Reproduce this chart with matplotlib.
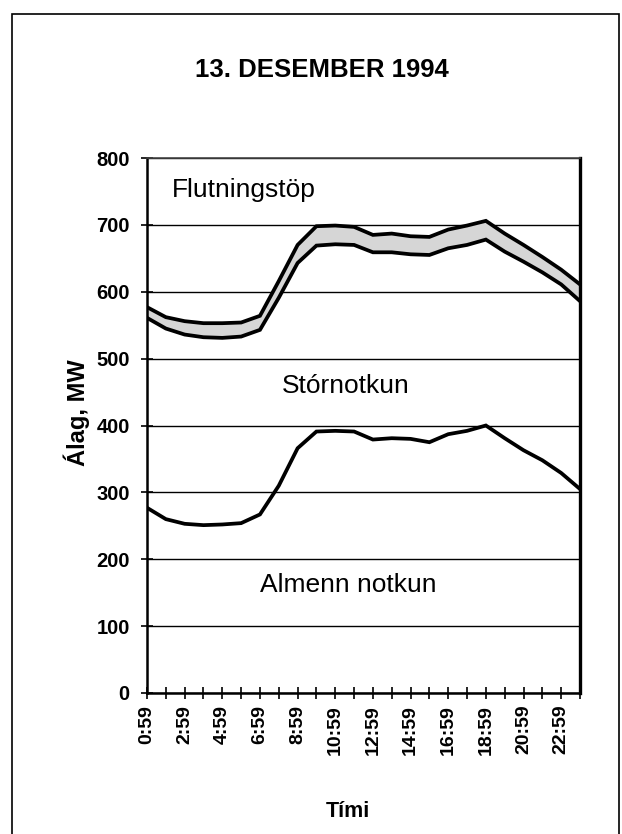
import matplotlib
matplotlib.use("Agg")
import matplotlib.pyplot as plt
from matplotlib.patches import Rectangle

plt.rcParams['font.family'] = ['Liberation Sans', 'DejaVu Sans']

hours = ['0:59', '1:59', '2:59', '3:59', '4:59', '5:59', '6:59', '7:59',
         '8:59', '9:59', '10:59', '11:59', '12:59', '13:59', '14:59', '15:59',
         '16:59', '17:59', '18:59', '19:59', '20:59', '21:59', '22:59', '23:59']

# Upper boundary of "Almenn notkun" (MW)
almenn = [277, 260, 253, 251, 252, 254, 267, 310, 366, 391, 392, 391,
          379, 381, 380, 375, 387, 392, 400, 381, 363, 348, 329, 305]
# Upper boundary of "Stórnotkun" (cumulative, MW)
stornotkun = [561, 545, 536, 532, 531, 533, 543, 591, 643, 669, 671, 670,
              659, 659, 656, 655, 665, 670, 678, 660, 645, 629, 611, 586]
# Upper boundary incl. "Flutningstöp" (cumulative, MW)
flutningstop = [577, 562, 556, 553, 553, 554, 564, 616, 670, 698, 699, 697,
                685, 687, 683, 682, 693, 699, 706, 687, 670, 652, 633, 611]

y_ticks = [0, 100, 200, 300, 400, 500, 600, 700, 800]

W, H = 622, 834
fig = plt.figure(figsize=(W / 100, H / 100), dpi=100)
fig.patch.set_facecolor('white')

def fx(px):
    return px / W

def fy(py):
    return 1 - py / H

AX_L, AX_R, AX_T, AX_B = 147, 580, 158, 693
ax = fig.add_axes([fx(AX_L), fy(AX_B), (AX_R - AX_L) / W, (AX_B - AX_T) / H])

x = list(range(len(hours)))
ax.fill_between(x, stornotkun, flutningstop, color='#d6d6d6', lw=0, zorder=2)
for series in (almenn, stornotkun, flutningstop):
    ax.plot(x, series, color='black', lw=2.7, zorder=3, solid_joinstyle='miter')

ax.set_xlim(0, len(hours) - 1)
ax.set_ylim(0, 800)
ax.set_yticks(y_ticks)
ax.set_yticklabels([str(v) for v in y_ticks], fontsize=14.5, fontweight='bold')
ax.set_xticks(x)
ax.set_xticklabels([h if i % 2 == 0 else '' for i, h in enumerate(hours)],
                   rotation=90, fontsize=14, fontweight='bold')
ax.tick_params(axis='both', direction='inout', length=9, width=1.2, colors='black')
ax.tick_params(axis='y', pad=8)
ax.tick_params(axis='x', pad=4)
ax.grid(axis='y', color='black', lw=1.0, zorder=1)
ax.set_axisbelow(True)

for s in ['left', 'bottom']:
    ax.spines[s].set_linewidth(1.8)
ax.spines['right'].set_linewidth(2.4)
ax.spines['top'].set_linewidth(1.2)
ax.spines['top'].set_color('#444444')

ax.set_ylabel('Álag, MW', fontsize=17, fontweight='bold')
ax.yaxis.set_label_coords((90 - AX_L) / (AX_R - AX_L), (AX_B - 413) / (AX_B - AX_T))
ax.set_xlabel('Tími', fontsize=15.5, fontweight='bold')
ax.xaxis.set_label_coords((348 - AX_L) / (AX_R - AX_L), (AX_B - 801) / (AX_B - AX_T))

fig.text(fx(322), fy(77), '13. DESEMBER 1994', fontsize=18.5, fontweight='bold',
         ha='center', va='baseline')
fig.text(fx(172), fy(197), 'Flutningstöp', fontsize=19, ha='left', va='baseline')
fig.text(fx(346), fy(393), 'Stórnotkun', fontsize=19, ha='center', va='baseline')
fig.text(fx(348), fy(592), 'Almenn notkun', fontsize=19, ha='center', va='baseline')

fig.patches.append(Rectangle((fx(12), fy(845)), fx(619) - fx(12), fy(14) - fy(845),
                             transform=fig.transFigure, fill=False,
                             edgecolor='black', lw=1.2))

fig.savefig('out.png', dpi=100)
